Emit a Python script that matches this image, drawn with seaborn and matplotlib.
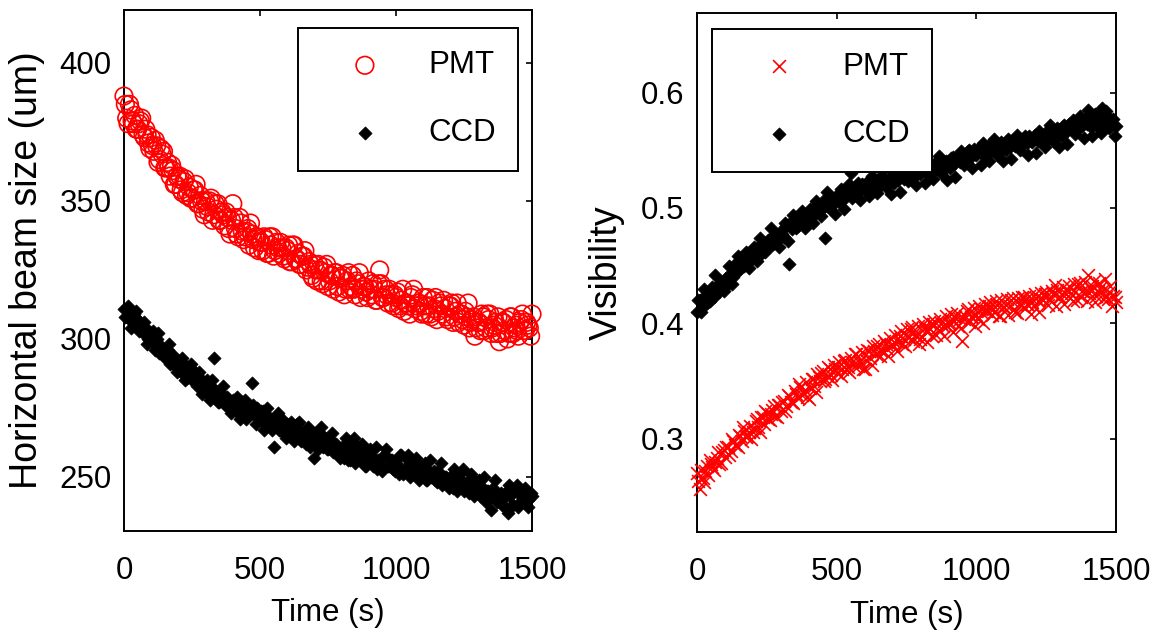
import numpy as np
import pandas as pd
import matplotlib
matplotlib.use("Agg")
import matplotlib.pyplot as plt
import seaborn as sns

# ---------------- data ----------------
# two interleaved sample sets: t = 0,10,...,1500 and t = 5,15,...,1495
time_a = list(range(0, 1501, 10))
time_b = list(range(5, 1500, 10))

beam_pmt_a = [
    388, 380, 385, 379, 381, 376, 379, 374, 376, 371,
    373, 368, 370, 365, 367, 362, 364, 359, 361, 356,
    358, 354, 357, 352, 355, 351, 354, 349, 352, 347,
    350, 346, 351, 345, 347, 343, 346, 341, 344, 338,
    349, 340, 337, 342, 336, 339, 334, 338, 333, 337,
    335, 332, 336, 331, 334, 330, 335, 331, 333, 329,
    332, 328, 334, 329, 331, 327, 330, 325, 328, 323,
    327, 321, 325, 320, 324, 319, 323, 318, 324, 317,
    322, 316, 321, 318, 323, 316, 320, 315, 319, 317,
    321, 316, 318, 314, 325, 315, 318, 313, 316, 312,
    315, 311, 314, 310, 313, 309, 316, 311, 313, 310,
    315, 309, 312, 308, 311, 307, 313, 309, 311, 307,
    312, 306, 310, 306, 309, 305, 308, 304, 307, 301,
    306, 303, 308, 304, 307, 302, 305, 302, 299, 306,
    303, 300, 308, 302, 305, 301, 307, 303, 306, 304,
    309,
]
beam_pmt_b = [
    385, 378, 383, 378, 376, 378, 380, 373, 374, 369,
    370, 372, 364, 369, 368, 362, 362, 363, 356, 359,
    359, 353, 358, 353, 351, 354, 356, 349, 350, 345,
    348, 350, 343, 349, 349, 343, 345, 346, 340, 343,
    344, 338, 344, 339, 337, 340, 342, 336, 337, 332,
    335, 337, 331, 337, 337, 332, 333, 335, 330, 333,
    334, 328, 334, 329, 327, 330, 332, 326, 327, 322,
    325, 327, 321, 326, 327, 321, 323, 324, 319, 322,
    323, 318, 324, 319, 318, 321, 324, 318, 319, 315,
    318, 320, 314, 320, 320, 315, 316, 318, 313, 316,
    317, 312, 318, 313, 312, 315, 318, 312, 313, 309,
    312, 315, 309, 314, 315, 310, 312, 314, 308, 312,
    313, 308, 313, 309, 307, 310, 313, 306, 308, 304,
    306, 309, 303, 309, 309, 304, 306, 308, 302, 306,
    307, 302, 308, 304, 303, 306, 309, 303, 305, 301,
]

beam_ccd_a = [
    311, 308, 310, 306, 308, 305, 306, 302, 304, 300,
    302, 298, 300, 295, 297, 293, 296, 291, 294, 290,
    292, 288, 291, 286, 289, 285, 288, 283, 286, 282,
    284, 280, 283, 293, 281, 277, 280, 276, 279, 275,
    278, 274, 277, 273, 276, 271, 274, 284, 272, 275,
    271, 274, 269, 272, 268, 261, 270, 267, 271, 266,
    269, 265, 268, 264, 267, 263, 266, 262, 265, 264,
    257, 263, 266, 261, 264, 260, 263, 259, 262, 258,
    261, 257, 260, 256, 259, 255, 261, 256, 258, 254,
    258, 255, 257, 253, 256, 252, 258, 254, 256, 253,
    255, 251, 258, 252, 254, 250, 256, 252, 254, 251,
    253, 249, 252, 250, 252, 248, 251, 247, 250, 248,
    250, 246, 249, 247, 249, 245, 248, 244, 247, 245,
    246, 243, 246, 241, 245, 238, 244, 241, 243, 240,
    244, 237, 243, 240, 245, 239, 243, 241, 244, 242,
    243,
]
beam_ccd_b = [
    308, 312, 304, 309, 310, 303, 304, 306, 298, 302,
    303, 296, 302, 296, 294, 296, 298, 292, 292, 288,
    290, 293, 285, 290, 291, 285, 286, 288, 280, 284,
    285, 278, 285, 280, 277, 280, 283, 276, 277, 273,
    275, 279, 271, 277, 278, 272, 274, 276, 269, 273,
    274, 267, 275, 270, 267, 271, 273, 267, 269, 264,
    267, 270, 263, 269, 270, 264, 266, 268, 261, 266,
    266, 260, 268, 262, 260, 264, 266, 260, 261, 257,
    260, 264, 256, 262, 264, 257, 259, 262, 254, 259,
    260, 254, 261, 256, 254, 258, 260, 254, 256, 252,
    254, 258, 251, 257, 258, 252, 254, 257, 249, 254,
    255, 249, 256, 251, 249, 252, 255, 249, 250, 246,
    249, 253, 245, 251, 253, 246, 248, 251, 243, 248,
    249, 243, 250, 245, 243, 246, 249, 243, 244, 240,
    243, 247, 240, 245, 247, 241, 243, 246, 239, 244,
]

vis_ccd_a = [
    0.410, 0.420, 0.414, 0.424, 0.418, 0.428, 0.423, 0.432, 0.427, 0.436,
    0.438, 0.434, 0.444, 0.440, 0.449, 0.446, 0.454, 0.450, 0.458, 0.454,
    0.462, 0.457, 0.466, 0.460, 0.469, 0.465, 0.473, 0.468, 0.477, 0.472,
    0.480, 0.475, 0.484, 0.451, 0.482, 0.488, 0.484, 0.492, 0.487, 0.495,
    0.490, 0.498, 0.494, 0.502, 0.497, 0.506, 0.474, 0.501, 0.509, 0.504,
    0.511, 0.506, 0.514, 0.509, 0.516, 0.530, 0.512, 0.519, 0.514, 0.521,
    0.516, 0.522, 0.518, 0.524, 0.519, 0.526, 0.520, 0.525, 0.521, 0.527,
    0.523, 0.528, 0.524, 0.530, 0.525, 0.531, 0.526, 0.532, 0.528, 0.534,
    0.529, 0.535, 0.531, 0.537, 0.532, 0.538, 0.534, 0.540, 0.535, 0.541,
    0.537, 0.543, 0.538, 0.544, 0.540, 0.547, 0.542, 0.549, 0.544, 0.551,
    0.546, 0.552, 0.547, 0.553, 0.548, 0.555, 0.550, 0.556, 0.551, 0.557,
    0.552, 0.558, 0.553, 0.559, 0.554, 0.560, 0.555, 0.561, 0.556, 0.562,
    0.557, 0.563, 0.558, 0.564, 0.559, 0.566, 0.561, 0.567, 0.563, 0.569,
    0.564, 0.571, 0.566, 0.573, 0.568, 0.575, 0.569, 0.580, 0.571, 0.577,
    0.585, 0.570, 0.578, 0.572, 0.580, 0.587, 0.574, 0.579, 0.572, 0.577,
    0.571,
]
vis_ccd_b = [
    0.420, 0.410, 0.430, 0.422, 0.419, 0.431, 0.442, 0.430, 0.436, 0.428,
    0.439, 0.450, 0.434, 0.451, 0.458, 0.447, 0.453, 0.462, 0.448, 0.461,
    0.466, 0.454, 0.474, 0.465, 0.462, 0.472, 0.483, 0.470, 0.475, 0.466,
    0.477, 0.487, 0.471, 0.488, 0.494, 0.483, 0.488, 0.497, 0.483, 0.495,
    0.499, 0.487, 0.506, 0.497, 0.493, 0.503, 0.514, 0.500, 0.505, 0.495,
    0.506, 0.516, 0.499, 0.515, 0.521, 0.509, 0.514, 0.522, 0.507, 0.519,
    0.522, 0.510, 0.528, 0.518, 0.513, 0.523, 0.533, 0.518, 0.523, 0.512,
    0.522, 0.532, 0.514, 0.530, 0.535, 0.523, 0.528, 0.535, 0.520, 0.531,
    0.534, 0.522, 0.540, 0.530, 0.525, 0.535, 0.545, 0.530, 0.535, 0.524,
    0.535, 0.544, 0.527, 0.543, 0.549, 0.537, 0.542, 0.550, 0.535, 0.547,
    0.549, 0.537, 0.556, 0.545, 0.541, 0.551, 0.560, 0.546, 0.551, 0.541,
    0.550, 0.560, 0.542, 0.557, 0.563, 0.550, 0.555, 0.562, 0.546, 0.558,
    0.560, 0.548, 0.567, 0.557, 0.553, 0.562, 0.572, 0.558, 0.563, 0.553,
    0.562, 0.572, 0.555, 0.570, 0.576, 0.564, 0.568, 0.576, 0.561, 0.573,
    0.575, 0.562, 0.581, 0.570, 0.565, 0.574, 0.584, 0.569, 0.573, 0.562,
]

vis_pmt_a = [
    0.270, 0.256, 0.266, 0.272, 0.268, 0.278, 0.273, 0.283, 0.278, 0.288,
    0.284, 0.293, 0.289, 0.298, 0.294, 0.303, 0.298, 0.307, 0.302, 0.311,
    0.306, 0.315, 0.310, 0.319, 0.313, 0.322, 0.316, 0.325, 0.320, 0.329,
    0.324, 0.333, 0.328, 0.337, 0.332, 0.341, 0.335, 0.345, 0.340, 0.349,
    0.334, 0.352, 0.346, 0.356, 0.350, 0.359, 0.352, 0.362, 0.355, 0.364,
    0.357, 0.366, 0.360, 0.368, 0.362, 0.370, 0.364, 0.373, 0.366, 0.375,
    0.360, 0.377, 0.370, 0.380, 0.373, 0.382, 0.376, 0.385, 0.378, 0.387,
    0.381, 0.390, 0.384, 0.393, 0.386, 0.395, 0.388, 0.397, 0.390, 0.398,
    0.386, 0.399, 0.393, 0.401, 0.389, 0.402, 0.396, 0.404, 0.398, 0.406,
    0.400, 0.408, 0.402, 0.409, 0.404, 0.385, 0.406, 0.412, 0.405, 0.413,
    0.407, 0.415, 0.409, 0.417, 0.411, 0.418, 0.412, 0.419, 0.406, 0.420,
    0.414, 0.421, 0.415, 0.422, 0.410, 0.422, 0.416, 0.423, 0.417, 0.424,
    0.418, 0.425, 0.419, 0.426, 0.420, 0.427, 0.421, 0.428, 0.433, 0.429,
    0.423, 0.431, 0.425, 0.432, 0.426, 0.434, 0.420, 0.435, 0.428, 0.436,
    0.442, 0.430, 0.437, 0.424, 0.435, 0.428, 0.438, 0.421, 0.432, 0.424,
    0.418,
]
vis_pmt_b = [
    0.263, 0.273, 0.262, 0.276, 0.281, 0.275, 0.280, 0.288, 0.279, 0.290,
    0.293, 0.286, 0.300, 0.294, 0.293, 0.302, 0.310, 0.301, 0.306, 0.300,
    0.309, 0.317, 0.306, 0.319, 0.324, 0.317, 0.321, 0.328, 0.319, 0.329,
    0.332, 0.324, 0.338, 0.332, 0.331, 0.339, 0.347, 0.338, 0.342, 0.336,
    0.344, 0.352, 0.340, 0.353, 0.357, 0.350, 0.354, 0.360, 0.351, 0.360,
    0.362, 0.354, 0.367, 0.360, 0.358, 0.366, 0.373, 0.363, 0.367, 0.360,
    0.368, 0.376, 0.364, 0.376, 0.380, 0.372, 0.376, 0.382, 0.372, 0.381,
    0.384, 0.376, 0.389, 0.382, 0.380, 0.388, 0.395, 0.385, 0.389, 0.382,
    0.388, 0.396, 0.384, 0.395, 0.399, 0.390, 0.394, 0.400, 0.389, 0.398,
    0.400, 0.392, 0.405, 0.398, 0.396, 0.404, 0.411, 0.401, 0.405, 0.398,
    0.404, 0.412, 0.400, 0.411, 0.415, 0.407, 0.410, 0.416, 0.406, 0.414,
    0.416, 0.407, 0.420, 0.412, 0.409, 0.417, 0.423, 0.413, 0.416, 0.408,
    0.415, 0.422, 0.410, 0.421, 0.425, 0.416, 0.420, 0.425, 0.415, 0.423,
    0.425, 0.417, 0.429, 0.422, 0.419, 0.427, 0.434, 0.423, 0.427, 0.419,
    0.426, 0.432, 0.418, 0.428, 0.431, 0.421, 0.423, 0.427, 0.415, 0.423,
]

x_ticks = [0, 500, 1000, 1500]
left_yticks = [250, 300, 350, 400]
right_yticks = [0.3, 0.4, 0.5, 0.6]
series_labels = ["PMT", "CCD"]

# ---------------- style ----------------
sns.set_style("white")
FONT = ["Liberation Sans", "DejaVu Sans"]
plt.rcParams["font.family"] = FONT
for key in ("text.color", "axes.labelcolor", "xtick.color", "ytick.color",
            "axes.edgecolor"):
    plt.rcParams[key] = "black"
TS = 22.5

fig = plt.figure(figsize=(11.55, 6.36), dpi=100)
ax1 = fig.add_axes([124 / 1155, 1 - 531 / 636, 408 / 1155, 521 / 636])
ax2 = fig.add_axes([697 / 1155, 1 - 532 / 636, 419 / 1155, 519 / 636])

df_beam = pd.DataFrame({"time": time_a + time_b,
                        "pmt": beam_pmt_a + beam_pmt_b,
                        "ccd": beam_ccd_a + beam_ccd_b})
df_vis = pd.DataFrame({"time": time_a + time_b,
                       "pmt": vis_pmt_a + vis_pmt_b,
                       "ccd": vis_ccd_a + vis_ccd_b})

red = (1.0, 0.0, 0.0)

sns.scatterplot(data=df_beam, x="time", y="pmt", ax=ax1, marker="o", s=160,
                facecolors="none", edgecolor=red, linewidth=1.2,
                label=series_labels[0], clip_on=False, zorder=3)
sns.scatterplot(data=df_beam, x="time", y="ccd", ax=ax1, marker="D", s=45,
                color="black", edgecolor="black", linewidth=0.5,
                label=series_labels[1], clip_on=False, zorder=3)

sns.scatterplot(data=df_vis, x="time", y="pmt", ax=ax2, marker="x", s=85,
                color=red, linewidth=1.2,
                label=series_labels[0], clip_on=False, zorder=3)
sns.scatterplot(data=df_vis, x="time", y="ccd", ax=ax2, marker="D", s=45,
                color="black", edgecolor="black", linewidth=0.5,
                label=series_labels[1], clip_on=False, zorder=3)

ax1.set_xlim(0, 1500)
ax1.set_ylim(230.4, 419.2)
ax2.set_xlim(0, 1500)
ax2.set_ylim(0.219, 0.669)

for ax, yt in ((ax1, left_yticks), (ax2, right_yticks)):
    ax.set_xticks(x_ticks)
    ax.set_yticks(yt)
    ax.set_xticklabels([str(v) for v in x_ticks])
    if ax is ax2:
        ax.set_yticklabels([f"{v:.1f}" for v in yt])
    ax.tick_params(axis="both", direction="in", length=4, width=1.2,
                   top=True, right=True, colors="black", labelsize=TS)
    ax.tick_params(axis="x", pad=18)
    ax.tick_params(axis="y", pad=9)
    for sp in ax.spines.values():
        sp.set_visible(True)
        sp.set_linewidth(1.4)
        sp.set_color("black")
    ax.set_xlabel("Time (s)", fontsize=TS, color="black", labelpad=9)
    ax.grid(False)

ax1.set_ylabel("Horizontal beam size (um)", fontsize=27, color="black",
               labelpad=10)
ax2.set_ylabel("Visibility", fontsize=27, color="black", labelpad=12)

leg_kw = dict(frameon=True, fancybox=False, framealpha=1, edgecolor="black",
              fontsize=TS, borderpad=0.72, labelspacing=1.21,
              handlelength=2.85, handletextpad=0.59, borderaxespad=0,
              scatterpoints=1, labelcolor="black")
leg1 = ax1.legend(loc="upper right", bbox_to_anchor=(0.9657, 0.9655), **leg_kw)
leg2 = ax2.legend(loc="upper left", bbox_to_anchor=(0.0358, 0.969), **leg_kw)
for leg in (leg1, leg2):
    leg.get_frame().set_linewidth(1.4)
    leg.set_zorder(10)

fig.savefig("out.png", dpi=100, facecolor="white")
